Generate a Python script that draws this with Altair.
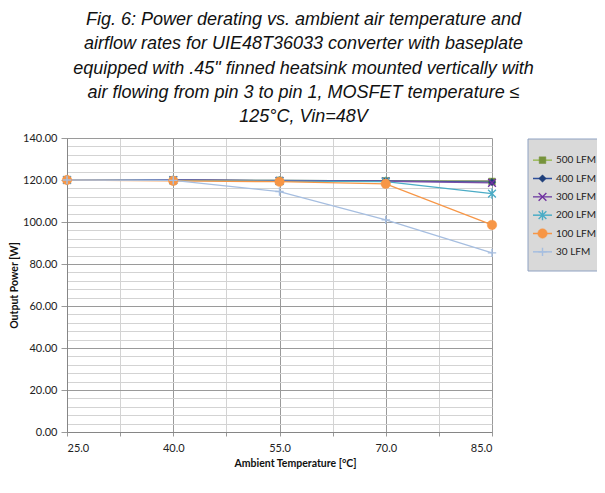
import altair as alt
import pandas as pd

# ---- data ----
temps = [25, 40, 55, 70, 85]
series_names = ["500 LFM", "400 LFM", "300 LFM", "200 LFM", "100 LFM", "30 LFM"]
p500 = [120.0, 120.0, 119.8, 119.6, 119.3]
p400 = [120.0, 120.0, 119.8, 119.6, 119.0]
p300 = [120.0, 120.0, 119.6, 119.4, 118.6]
p200 = [120.0, 119.8, 119.5, 119.2, 113.5]
p100 = [120.0, 119.6, 119.2, 118.2, 98.6]
p30 = [120.0, 119.8, 114.5, 101.0, 85.3]
all_series = [p500, p400, p300, p200, p100, p30]

y_ticks = list(range(0, 141, 4))
x_ticks = [25, 32.5, 40, 47.5, 55, 62.5, 70, 77.5, 85]

title_lines = [
    "Fig. 6: Power derating vs. ambient air temperature and",
    "airflow rates for UIE48T36033 converter with baseplate",
    "equipped with .45\" finned heatsink mounted vertically with",
    "air flowing from pin 3 to pin 1, MOSFET temperature  \u2264",
    "125\u00b0C, Vin=48V",
]

# ---- styles ----
line_colors = ["#9BBB59", "#2E4F9A", "#7A4FA8", "#4BACC6", "#F79646", "#A6BEE0"]
marker_colors = ["#77933C", "#1F3F7A", "#7030A0", "#4BACC6", "#F79646", "#A6BEE0"]
marker_shapes = [
    "square",
    "diamond",
    "M-1,-1L1,1M-1,1L1,-1",
    "M-1,-1L1,1M-1,1L1,-1M0,-1.3L0,1.3",
    "circle",
    "M-1,0L1,0M0,-1L0,1",
]
marker_filled = [True, True, False, False, True, False]
marker_sizes = [45, 55, 60, 60, 90, 70]

rows = []
for name, vals in zip(series_names, all_series):
    for t, v in zip(temps, vals):
        rows.append({"series": name, "temp": t, "power": v})
df = pd.DataFrame(rows)

FONT = "Lato"
grid_major = "#9A9A9A"
grid_minor = "#D3D3D3"

x_enc = alt.X(
    "temp:Q",
    scale=alt.Scale(domain=[25, 85], nice=False),
    axis=alt.Axis(
        values=x_ticks,
        labelExpr="datum.value % 15 === 10 ? format(datum.value, '.1f') : ''",
        gridColor={"condition": {"test": "datum.value % 15 === 10", "value": grid_major}, "value": grid_minor},
        tickColor=grid_major,
        tickSize=4,
        domainColor="#868686",
        labelFont=FONT, labelFontSize=11, labelColor="#222222", labelPadding=6,
        title="Ambient Temperature [\u00b0C]",
        titleFont=FONT, titleFontSize=10.5, titleFontWeight="bold", titleColor="#111111",
        titlePadding=5, titleX=228,
    ),
)
y_enc = alt.Y(
    "power:Q",
    scale=alt.Scale(domain=[0, 140], nice=False),
    axis=alt.Axis(
        values=y_ticks,
        labelExpr="datum.value % 20 === 0 ? format(datum.value, '.2f') : ''",
        gridColor={"condition": {"test": "datum.value % 20 === 0", "value": grid_major}, "value": grid_minor},
        tickColor={"condition": {"test": "datum.value % 20 === 0", "value": grid_major}, "value": "transparent"},
        tickSize=6,
        domainColor="#868686",
        labelFont=FONT, labelFontSize=11, labelColor="#222222", labelPadding=4,
        title="Output Power [W]",
        titleFont=FONT, titleFontSize=10.5, titleFontWeight="bold", titleColor="#111111",
        titlePadding=3,
    ),
)

base = alt.Chart(df)
layers = []
for i, name in enumerate(series_names):
    layers.append(
        base.transform_filter(alt.datum.series == name)
        .mark_line(color=line_colors[i], strokeWidth=1.3)
        .encode(x=x_enc, y=y_enc)
    )
for i, name in enumerate(series_names):
    kw = dict(shape=marker_shapes[i], size=marker_sizes[i], opacity=1)
    if marker_filled[i]:
        kw.update(filled=True, fill=marker_colors[i], stroke=marker_colors[i], strokeWidth=0.5)
    else:
        kw.update(filled=False, stroke=marker_colors[i], strokeWidth=1.4)
    layers.append(
        base.transform_filter(alt.datum.series == name)
        .mark_point(**kw)
        .encode(x=x_enc, y=y_enc)
    )
main = alt.layer(*layers)

# ---- legend (drawn as marks with its own y scale) ----
leg_df = pd.DataFrame({"series": series_names})
leg_y = alt.Y("series:N", scale=alt.Scale(domain=series_names, range=[13, 123], padding=0), axis=None)
leg_base = alt.Chart(leg_df)
leg_layers = [
    alt.Chart(pd.DataFrame({"a": [0]})).mark_rect(
        fill="#D9D9D9", stroke="#8FA2C2", strokeWidth=1
    ).encode(x=alt.value(461), x2=alt.value(640), y=alt.value(1), y2=alt.value(133))
]
for i, name in enumerate(series_names):
    leg_layers.append(
        leg_base.transform_filter(alt.datum.series == name)
        .mark_rule(color=line_colors[i], strokeWidth=1.5)
        .encode(x=alt.value(466), x2=alt.value(485), y=leg_y)
    )
    kw = dict(shape=marker_shapes[i], size=marker_sizes[i], opacity=1)
    if marker_filled[i]:
        kw.update(filled=True, fill=marker_colors[i], stroke=marker_colors[i], strokeWidth=0.5)
    else:
        kw.update(filled=False, stroke=marker_colors[i], strokeWidth=1.4)
    leg_layers.append(
        leg_base.transform_filter(alt.datum.series == name)
        .mark_point(**kw)
        .encode(x=alt.value(475.5), y=leg_y)
    )
leg_layers.append(
    leg_base.mark_text(align="left", baseline="middle", font=FONT, fontSize=10, color="#222222")
    .encode(x=alt.value(489), y=leg_y, text="series:N")
)
legend = alt.layer(*leg_layers)

chart = (
    alt.layer(main, legend)
    .resolve_scale(y="independent")
    .properties(
        width=425,
        height=294,
        autosize=alt.AutoSizeParams(type="none"),
        padding={"left": 59, "top": 130, "right": 105, "bottom": 53},
        title=alt.TitleParams(
            text=title_lines,
            font="Liberation Sans",
            fontSize=18,
            fontStyle="italic",
            fontWeight="normal",
            color="#111111",
            anchor="middle",
            frame="group",
            dx=24,
            lineHeight=24.2,
            offset=6,
        ),
    )
    .configure_view(stroke=None)
    .configure_axis(gridWidth=1)
)

chart.save("out.html", embed_options={"renderer": "svg", "actions": False})
